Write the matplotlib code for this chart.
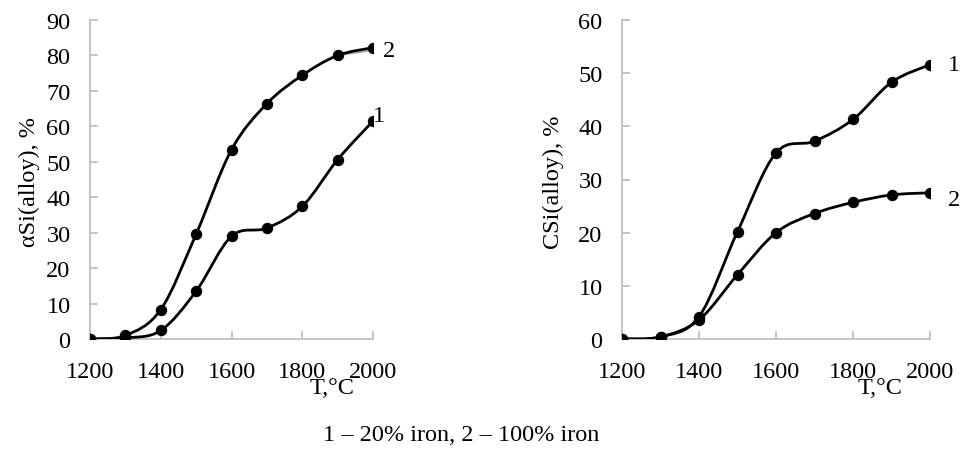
import numpy as np
import matplotlib
matplotlib.use("Agg")
import matplotlib.pyplot as plt
from matplotlib.path import Path
from matplotlib.patches import PathPatch

plt.rcParams['font.family'] = ['Liberation Serif', 'DejaVu Serif']

# temperature, °C
temps = [1200, 1300, 1400, 1500, 1600, 1700, 1800, 1900, 2000]

# degree of Si extraction into alloy, %
alpha_20 = [0, 0.3, 2.4, 13.5, 29.0, 31.3, 37.4, 50.6, 61.5]
alpha_100 = [0, 1.0, 8.3, 29.6, 53.4, 66.4, 74.4, 80.0, 82.2]

# Si content in alloy, %
c_20 = [0, 0.4, 4.2, 20.2, 35.0, 37.2, 41.3, 48.3, 51.6]
c_100 = [0, 0.4, 3.6, 12.1, 20.0, 23.6, 25.7, 27.1, 27.5]

xticks = [1200, 1400, 1600, 1800, 2000]
legend_text = "1 – 20% iron, 2 – 100% iron"

FS = 17.5
GRAY = '#bfbfbf'


def smooth_path(x, y):
    """Bezier path through the points, spreadsheet-style smoothing."""
    pts = np.column_stack([x, y]).astype(float)
    n = len(pts)
    verts = [pts[0]]
    codes = [Path.MOVETO]
    for i in range(n - 1):
        p0 = pts[max(i - 1, 0)]
        p1 = pts[i]
        p2 = pts[i + 1]
        p3 = pts[min(i + 2, n - 1)]
        c1 = p1 + (p2 - p0) / 6.0
        c2 = p2 - (p3 - p1) / 6.0
        verts += [c1, c2, p2]
        codes += [Path.CURVE4] * 3
    return Path(verts, codes)


def draw_series(ax, x, y):
    ax.add_patch(PathPatch(smooth_path(x, y), facecolor='none',
                           edgecolor='black', lw=2.0, zorder=3))
    ax.plot(x, y, 'o', color='black', ms=7.2, zorder=4)


def style_axes(ax, ymax, ystep):
    ax.set_xlim(1200, 2000)
    ax.set_ylim(0, ymax)
    ax.set_xticks(xticks)
    ax.set_yticks(np.arange(0, ymax + 1, ystep))
    for side in ('top', 'right'):
        ax.spines[side].set_visible(False)
    for side in ('left', 'bottom'):
        ax.spines[side].set_color(GRAY)
        ax.spines[side].set_linewidth(1.3)
    ax.tick_params(direction='in', length=6, width=1.3, color=GRAY,
                   labelsize=FS, labelcolor='black')
    ax.tick_params(axis='y', pad=14)
    ax.tick_params(axis='x', pad=16)
    for lab in ax.get_xticklabels() + ax.get_yticklabels():
        lab.set_clip_on(False)


fig = plt.figure(figsize=(9.63, 4.56), dpi=100)
W, H = 963.0, 456.0

ax1 = fig.add_axes([90 / W, 116 / H, 283 / W, 319 / H])
ax2 = fig.add_axes([622 / W, 116 / H, 308 / W, 319 / H])

# left: extraction degree
style_axes(ax1, 90, 10)
draw_series(ax1, temps, alpha_100)
draw_series(ax1, temps, alpha_20)
ax1.plot(temps[-2:], [alpha_100[-2], 81.5], color='#a6a6a6', lw=1.2, zorder=2)
ax1.annotate('2', (temps[-1], alpha_100[-1]), xytext=(7, -2),
             textcoords='offset points', fontsize=FS, va='center',
             annotation_clip=False)
ax1.annotate('1', (temps[-1], alpha_20[-1]), xytext=(0, 4),
             textcoords='offset points', fontsize=FS, va='center',
             annotation_clip=False)

# right: Si content
style_axes(ax2, 60, 10)
draw_series(ax2, temps, c_20)
draw_series(ax2, temps, c_100)
ax2.annotate('1', (temps[-1], c_20[-1]), xytext=(13, 0),
             textcoords='offset points', fontsize=FS, va='center',
             annotation_clip=False)
ax2.annotate('2', (temps[-1], c_100[-1]), xytext=(13, -5),
             textcoords='offset points', fontsize=FS, va='center',
             annotation_clip=False)

fig.text(29 / W, 1 - 182 / H, 'αSi(alloy), %', rotation=90, fontsize=FS,
         ha='center', va='center')
fig.text(553 / W, 1 - 182 / H, 'CSi(alloy), %', rotation=90, fontsize=FS,
         ha='center', va='center')
fig.text(332 / W, 1 - 389 / H, 'T,°C', fontsize=FS, ha='center', va='center')
fig.text(880 / W, 1 - 389 / H, 'T,°C', fontsize=FS, ha='center', va='center')
fig.text(461 / W, 1 - 436 / H, legend_text, fontsize=FS, ha='center',
         va='center')

fig.savefig('out.png', dpi=100)
